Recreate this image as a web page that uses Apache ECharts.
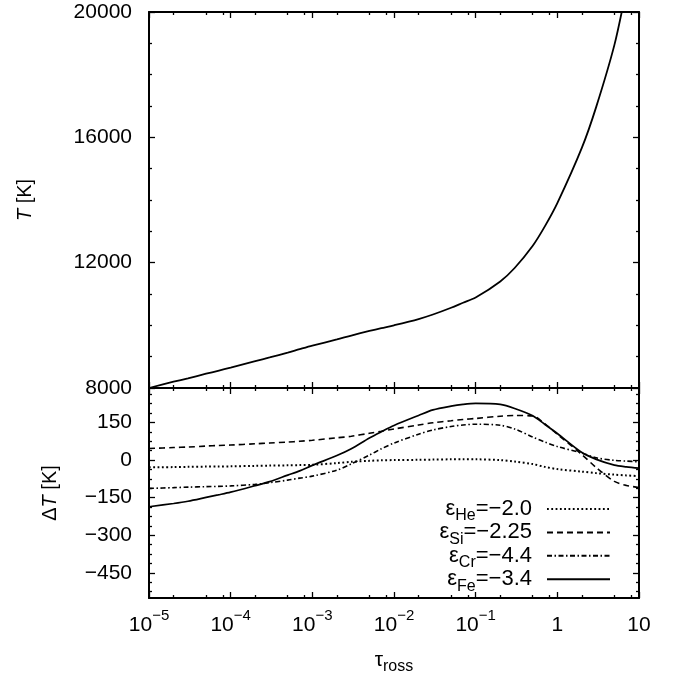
<!DOCTYPE html>
<html><head><meta charset="utf-8">
<script src="https://cdn.jsdelivr.net/npm/echarts@6/dist/echarts.min.js"></script>
<style>html,body{margin:0;padding:0;background:#fff}#c{width:678px;height:675px}</style>
</head><body><div id="c"></div>
<script>
// ---------- data ----------
const tau = [1e-5,2e-5,3e-5,5e-5,7e-5,1e-4,2e-4,3e-4,5e-4,7e-4,1e-3,2e-3,3e-3,5e-3,7e-3,1e-2,2e-2,3e-2,5e-2,7e-2,0.1,0.2,0.3,0.5,0.7,1,2,3,5,7,10];
const temperature = [8000,8200,8310,8455,8550,8651,8855,8975,9130,9240,9353,9550,9675,9820,9910,10001,10200,10345,10560,10720,10886,11400,11830,12540,13150,13900,15670,16980,18950,20700,22500];
const dT_He = [-29,-28,-27,-26,-25.5,-25,-23,-22,-21,-20,-19,-12,-7,-3,-1,0,1,2,3,3,3,0,-6,-16,-27,-36,-46,-52,-58,-61,-64];
const dT_Si = [46,50,52,56,58,60,65,68,72,75,79,89,95,107,115,124,140,149,157,162,166,175,178,176,145,103,22,-30,-85,-101,-109];
const dT_Cr = [-113,-110,-108,-106,-105,-103,-97,-90,-80,-72,-64,-40,-15,20,45,68,103,120,134,140,143,139,124,92,72,54,28,9,-1,-4,-7];
const dT_Fe = [-186,-173,-164,-149,-139,-128,-102,-86,-60,-43,-21,18,45,88,113,138,178,200,215,222,226,222,206,177,143,106,30,3,-20,-27,-32];
const elements = ['He','Si','Cr','Fe'];
const abundanceLabels = ['−2.0','−2.25','−4.4','−3.4'];
const xMajorTicks = [1e-5,1e-4,1e-3,1e-2,1e-1,1,10];
const xMinorTicks = [2e-5,5e-5,8e-5,2e-4,5e-4,8e-4,2e-3,5e-3,8e-3,2e-2,5e-2,8e-2,0.2,0.5,0.8,2,5,8];
const dTMajorTicks = [-450,-300,-150,0,150];
const dTMinorTicks = [-525,-487.5,-412.5,-375,-337.5,-262.5,-225,-187.5,-112.5,-75,-37.5,37.5,75,112.5,187.5,225,262.5];

// ---------- styles ----------
const FONT = 'Liberation Sans';
const tickStyle = {color:'#000', width:1.3};
const axLine = {color:'#000', width:2};
const dashTypes = {He:[1.8,2.5], Si:[6,4], Cr:[5,2.5,1.5,2.5], Fe:'solid'};
const dashWidths = {He:2, Si:1.6, Cr:1.6, Fe:1.7};
const seriesData = {He:dT_He, Si:dT_Si, Cr:dT_Cr, Fe:dT_Fe};
const abund = {};
elements.forEach((e,i)=>abund[e]=abundanceLabels[i]);

function logX(grid, pos, extra){
  return Object.assign({
    type:'log', logBase:10, gridIndex:grid, position:pos, min:1e-5, max:10, splitNumber:6,
    axisLine:{show:true, onZero:false, lineStyle:axLine},
    axisTick:{show:true, inside:true, length:6, lineStyle:tickStyle},
    axisLabel:{show:false}, splitLine:{show:false}, minorTick:{show:false}, minorSplitLine:{show:false}
  }, extra||{});
}
function minorX(grid, pos){
  return {type:'value', gridIndex:grid, position:pos, min:-5, max:1,
    axisLine:{show:false, onZero:false},
    axisTick:{show:true, inside:true, length:3, lineStyle:tickStyle, customValues: xMinorTicks.map(v=>Math.log10(v))},
    axisLabel:{show:false}, splitLine:{show:false}};
}
function supLabel(v){
  const e = Math.round(Math.log10(v));
  if (e === 0) return '{b|1}';
  if (e === 1) return '{b|10}';
  return '{b|10}{p|' + (e<0?'−':'') + Math.abs(e) + '}';
}

const option = {
  animation:false,
  backgroundColor:'#fff',
  textStyle:{fontFamily:FONT, color:'#000'},
  grid:[
    {left:149, right:39, top:12, height:376, outerBoundsMode:'none', containLabel:false},
    {left:149, right:39, top:388, height:210, outerBoundsMode:'none', containLabel:false}
  ],
  xAxis:[
    logX(0,'bottom'),
    logX(0,'top'),
    minorX(0,'bottom'),
    minorX(0,'top'),
    logX(1,'bottom',{
      name:'{t|τ}{s|ross}', nameLocation:'middle', nameGap:50,
      nameTextStyle:{fontFamily:FONT, color:'#000', rich:{
        t:{fontFamily:FONT, fontSize:21, lineHeight:24, height:24, verticalAlign:'top', color:'#000'},
        s:{fontFamily:FONT, fontSize:16, lineHeight:24, height:10, verticalAlign:'bottom', color:'#000'}}},
      axisLabel:{show:true, margin:10, formatter:supLabel, fontFamily:FONT, color:'#000', rich:{
        b:{fontFamily:FONT, fontSize:21, lineHeight:28, verticalAlign:'bottom', color:'#000'},
        p:{fontFamily:FONT, fontSize:15, lineHeight:12, verticalAlign:'top', color:'#000'}}}
    }),
    logX(1,'top'),
    minorX(1,'bottom'),
    minorX(1,'top')
  ],
  yAxis:[
    {type:'value', gridIndex:0, position:'left', min:8000, max:20000, interval:4000,
     name:'{i|T} [K]', nameLocation:'middle', nameGap:114, nameRotate:90,
     nameTextStyle:{fontFamily:FONT, fontSize:20, color:'#000', rich:{i:{fontFamily:FONT, fontSize:20, fontStyle:'italic', color:'#000'}}},
     axisLine:{show:true, onZero:false, lineStyle:axLine},
     axisTick:{show:true, inside:true, length:6, lineStyle:tickStyle},
     minorTick:{show:true, splitNumber:4, length:3, lineStyle:tickStyle},
     axisLabel:{show:true, margin:17, fontSize:21, fontFamily:FONT, color:'#000', formatter:v=>String(v)},
     splitLine:{show:false}},
    {type:'value', gridIndex:0, position:'right', min:8000, max:20000, interval:4000,
     axisLine:{show:true, onZero:false, lineStyle:axLine},
     axisTick:{show:true, inside:true, length:6, lineStyle:tickStyle},
     minorTick:{show:true, splitNumber:4, length:3, lineStyle:tickStyle},
     axisLabel:{show:false}, splitLine:{show:false}},
    {type:'value', gridIndex:1, position:'left', min:-550, max:287.5,
     name:'Δ{i|T} [K]', nameLocation:'middle', nameGap:89, nameRotate:90,
     nameTextStyle:{fontFamily:FONT, fontSize:20, color:'#000', rich:{i:{fontFamily:FONT, fontSize:20, fontStyle:'italic', color:'#000'}}},
     axisLine:{show:true, onZero:false, lineStyle:axLine},
     axisTick:{show:true, inside:true, length:6, lineStyle:tickStyle, customValues:dTMajorTicks},
     axisLabel:{show:true, margin:17, fontSize:21, fontFamily:FONT, color:'#000', customValues:dTMajorTicks, formatter:v=>String(v).replace('-','−')},
     splitLine:{show:false}},
    {type:'value', gridIndex:1, position:'left', min:-550, max:287.5,
     axisLine:{show:false, onZero:false},
     axisTick:{show:true, inside:true, length:3, lineStyle:tickStyle, customValues:dTMinorTicks},
     axisLabel:{show:false}, splitLine:{show:false}},
    {type:'value', gridIndex:1, position:'right', min:-550, max:287.5,
     axisLine:{show:true, onZero:false, lineStyle:axLine},
     axisTick:{show:true, inside:true, length:6, lineStyle:tickStyle, customValues:dTMajorTicks},
     axisLabel:{show:false}, splitLine:{show:false}},
    {type:'value', gridIndex:1, position:'right', min:-550, max:287.5,
     axisLine:{show:false, onZero:false},
     axisTick:{show:true, inside:true, length:3, lineStyle:tickStyle, customValues:dTMinorTicks},
     axisLabel:{show:false}, splitLine:{show:false}}
  ],
  legend:{
    data:elements, orient:'vertical', right:67, top:497, align:'right', padding:0,
    itemWidth:63, itemHeight:14, itemGap:-3.6, selectedMode:false,
    itemStyle:{opacity:0, color:'transparent', borderWidth:0},
    formatter:n=>'{e|ε}{s|'+n+'}{e|='+abund[n]+'}',
    textStyle:{fontFamily:FONT, fontSize:22, color:'#000', padding:[0,10,0,0], rich:{
      e:{fontFamily:FONT, fontSize:22, lineHeight:24, height:24, verticalAlign:'top', color:'#000'},
      s:{fontFamily:FONT, fontSize:16, lineHeight:24, height:10, verticalAlign:'bottom', color:'#000'}}}
  },
  series:[
    {type:'line', name:'T', xAxisIndex:0, yAxisIndex:0, data:tau.map((t,i)=>[t,temperature[i]]),
     symbol:'none', showSymbol:false, smooth:0.3, clip:true, silent:true,
     lineStyle:{color:'#000', width:1.8}}
  ].concat(elements.map(el=>({
     type:'line', name:el, xAxisIndex:4, yAxisIndex:2, data:tau.map((t,i)=>[t,seriesData[el][i]]),
     symbol:'none', showSymbol:false, smooth:0.3, clip:true, silent:true,
     itemStyle:{color:'#000'},
     lineStyle:{color:'#000', width:dashWidths[el], type:dashTypes[el], cap:'butt'}
  })))
};
const chart = echarts.init(document.getElementById('c'), null, {renderer:'canvas'});
chart.setOption(option);
</script></body></html>
